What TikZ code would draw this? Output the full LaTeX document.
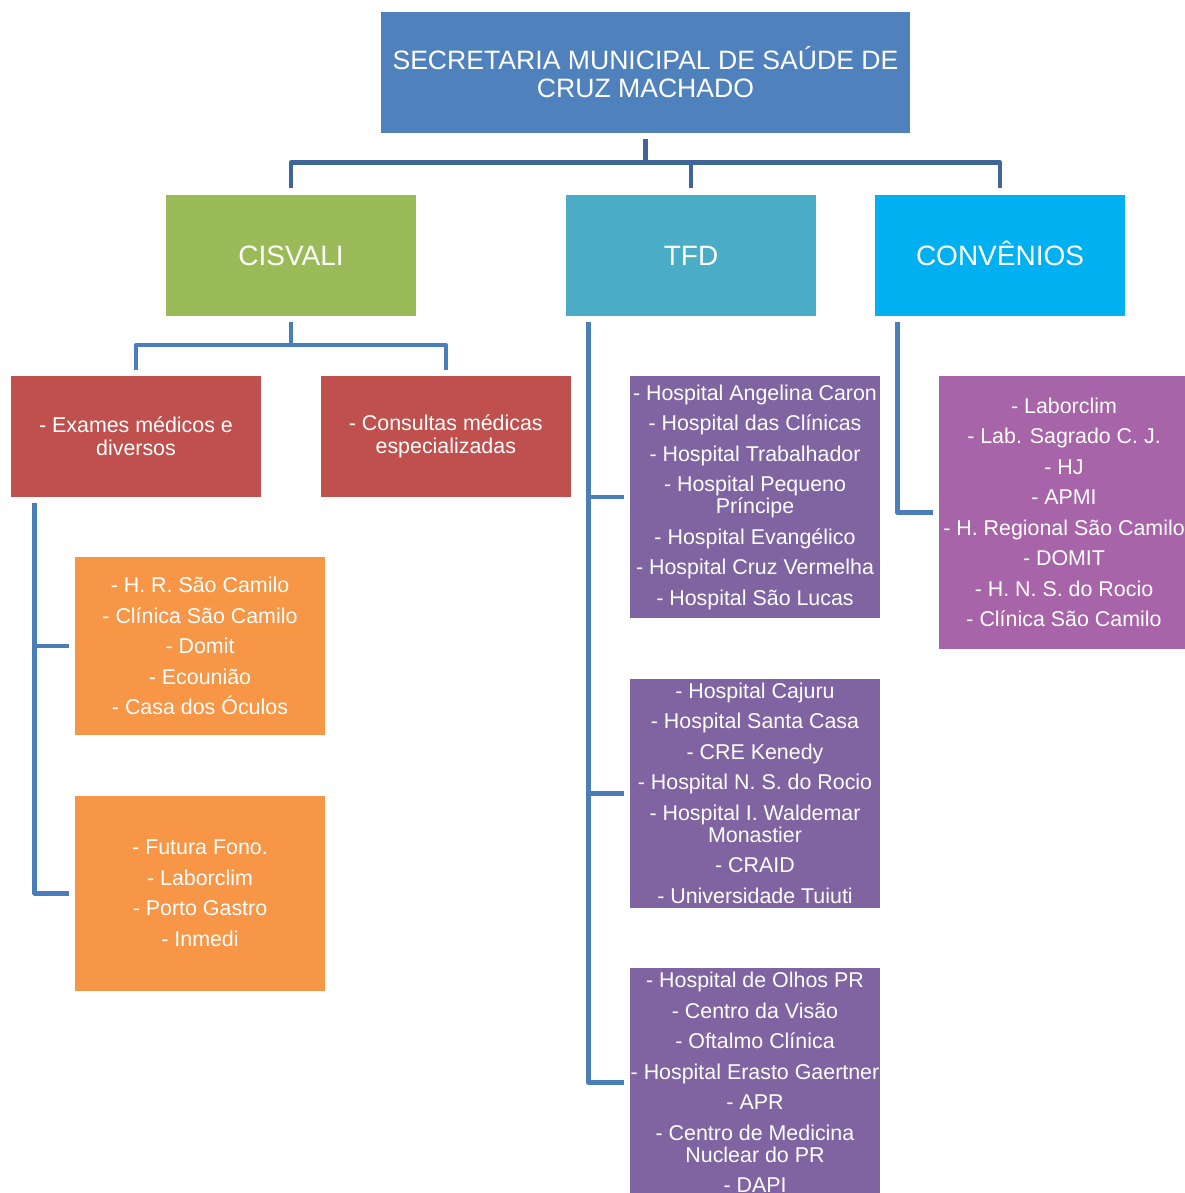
\documentclass[tikz,border=0pt]{standalone}
\usepackage{fontspec}
\setmainfont{Liberation Sans}
\usetikzlibrary{positioning}

\definecolor{headblue}{HTML}{4F81BD}
\definecolor{cisgreen}{HTML}{9BBB59}
\definecolor{tfdcyan}{HTML}{4BACC6}
\definecolor{convcyan}{HTML}{00B0F0}
\definecolor{examred}{HTML}{C0504D}
\definecolor{examorange}{HTML}{F79646}
\definecolor{tfdpurple}{HTML}{8064A2}
\definecolor{convpurple}{HTML}{A864A8}
\definecolor{lineblue}{HTML}{4A7EBB}
\definecolor{topline}{HTML}{3F6698}

\begin{document}
\begin{tikzpicture}[
        x=0.5pt, y=-0.5pt,
        box/.style={rectangle, fill=#1, text=white, minimum width=125pt, inner sep=0pt, align=center},
        listfont/.style={font=\fontsize{10.7pt}{15.25pt}\selectfont},
        headfont/.style={font=\fontsize{14pt}{16pt}\selectfont, text height=10.5pt, text depth=0pt},
        conn/.style={draw=lineblue, line width=2.2pt, line join=round, shorten <=3pt, shorten >=3pt},
        node distance=30pt
        ]
        \useasboundingbox (0,0) rectangle (1184,1193);

        % Define the nodes
        \node (sec) [box=headblue, minimum width=264.5pt, minimum height=60.5pt, font=\fontsize{13.3pt}{14pt}\selectfont] at (645.5,72.5) {SECRETARIA MUNICIPAL DE SAÚDE DE\\CRUZ MACHADO};

        \node (cisvali) [box=cisgreen, minimum height=60.5pt, headfont] at (291,255) {CISVALI};
        \node (tfd) [box=tfdcyan, minimum height=60.5pt, headfont] at (691,255) {TFD};
        \node (conv) [box=convcyan, minimum height=60.5pt, headfont] at (1000,255) {CONVÊNIOS};

        \node (exames) [box=examred, minimum height=60.5pt, font=\fontsize{10.7pt}{11.5pt}\selectfont] at (136,436.5) {- Exames médicos e\\diversos};
        \node (consultas) [box=examred, minimum height=60.5pt, font=\fontsize{10.7pt}{11.5pt}\selectfont, right=29.5pt of exames] {- Consultas médicas\\especializadas};

        \node (or1) [box=examorange, minimum height=89pt, listfont] at (200,646) {- H. R. São Camilo\\- Clínica São Camilo\\- Domit\\- Ecounião\\- Casa dos Óculos};
        \node (or2) [box=examorange, minimum height=97.5pt, listfont, below=of or1] {- Futura Fono.\\- Laborclim\\- Porto Gastro\\- Inmedi};

        \node (h1) [box=tfdpurple, minimum height=121pt, listfont] at (755,497) {- Hospital Angelina Caron\\- Hospital das Clínicas\\- Hospital Trabalhador\\- Hospital Pequeno\\[-4.25pt]Príncipe\\- Hospital Evangélico\\- Hospital Cruz Vermelha\\- Hospital São Lucas};
        \node (h2) [box=tfdpurple, minimum height=114.5pt, listfont, below=of h1] {- Hospital Cajuru\\- Hospital Santa Casa\\- CRE Kenedy\\- Hospital N. S. do Rocio\\- Hospital I. Waldemar\\[-4.25pt]Monastier\\- CRAID\\- Universidade Tuiuti};
        \node (h3) [box=tfdpurple, minimum height=115pt, listfont, below=29.5pt of h2] {- Hospital de Olhos PR\\- Centro da Visão\\- Oftalmo Clínica\\- Hospital Erasto Gaertner\\- APR\\- Centro de Medicina\\[-4.25pt]Nuclear do PR\\- DAPI};

        \node (clin) [box=convpurple, minimum height=136.5pt, listfont] at (1064,512.5) {- Laborclim\\- Lab. Sagrado C. J.\\- HJ\\- APMI\\- H. Regional São Camilo\\- DOMIT\\- H. N. S. do Rocio\\- Clínica São Camilo};

        % Draw the connectors
        \draw[conn, draw=topline] (sec.south) -- ++(0,29) -| (cisvali.north);
        \draw[conn, draw=topline] (sec.south) -- ++(0,29) -| (tfd.north);
        \draw[conn, draw=topline] (sec.south) -- ++(0,29) -| (conv.north);

        \draw[conn] (cisvali.south) -- ++(0,29) -| (exames.north);
        \draw[conn] (cisvali.south) -- ++(0,29) -| (consultas.north);

        \draw[conn] ([xshift=12pt]exames.south west) |- (or1.west);
        \draw[conn] ([xshift=12pt]exames.south west) |- (or2.west);

        \draw[conn] ([xshift=11.5pt]tfd.south west) |- (h1.west);
        \draw[conn] ([xshift=11.5pt]tfd.south west) |- (h2.west);
        \draw[conn] ([xshift=11.5pt]tfd.south west) |- (h3.west);

        \draw[conn] ([xshift=11.5pt]conv.south west) |- (clin.west);
    \end{tikzpicture}
\end{document}
